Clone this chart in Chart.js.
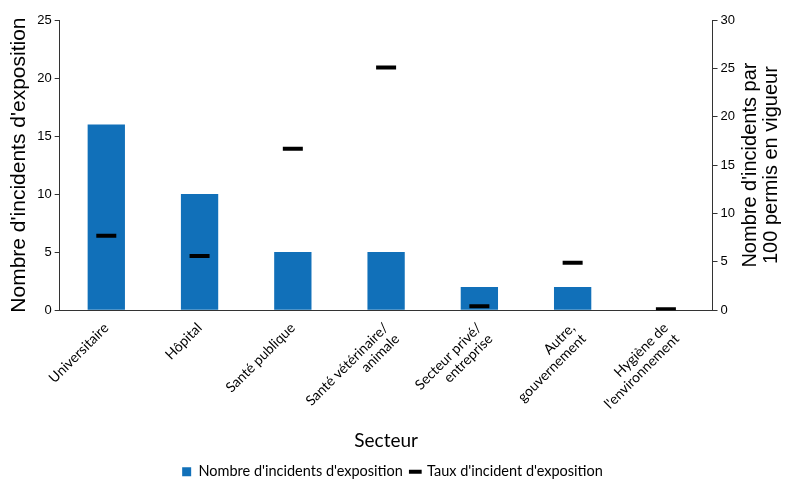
<!DOCTYPE html>
<html>
<head>
<meta charset="utf-8">
<script src="https://cdn.jsdelivr.net/npm/chart.js@4.4.0/dist/chart.umd.min.js"></script>
<style>
    html, body { margin: 0; padding: 0; background: #fff; }
    #wrap { width: 792px; height: 497px; }
</style>
</head>
<body>
<div id="wrap"><canvas id="chart"></canvas></div>
<script>
// Données du graphique
const secteurs = [
    'Universitaire',
    'Hôpital',
    'Santé publique',
    ['Santé vétérinaire/', 'animale'],
    ['Secteur privé/', 'entreprise'],
    ['Autre,', 'gouvernement'],
    ['Hygiène de', "l'environnement"]
];
const nombreIncidents = [16, 10, 5, 5, 2, 2, 0];
const tauxIncidents = [7.7, 5.6, 16.7, 25.1, 0.4, 4.9, 0.1];
const titreDroite = ["Nombre d'incidents par", '100 permis en vigueur'];

const bleu = '#1170b9';
const axe = '#333';

// Titre de l'axe de droite, tourné comme celui de gauche (de bas en haut)
const titreAxeDroite = {
    id: 'titreAxeDroite',
    afterDraw(chart) {
        const area = chart.chartArea;
        const c = chart.ctx;
        const milieu = (area.top + area.bottom) / 2;
        const x0 = area.right + 38;
        c.save();
        c.fillStyle = '#000';
        c.font = '20px "Liberation Sans"';
        c.textAlign = 'center';
        c.textBaseline = 'middle';
        titreDroite.forEach(function (ligne, i) {
            c.save();
            c.translate(x0 + i * 21, milieu);
            c.rotate(-Math.PI / 2);
            c.fillText(ligne, 0, 0);
            c.restore();
        });
        c.restore();
    }
};

const ctx = document.getElementById('chart');

new Chart(ctx, {
    data: {
        labels: secteurs,
        datasets: [{
            type: 'line',
            label: "Taux d'incident d'exposition",
            data: tauxIncidents,
            yAxisID: 'y2',
            showLine: false,
            pointStyle: 'line',
            pointRadius: 10,
            pointHoverRadius: 10,
            borderColor: '#000',
            backgroundColor: '#000',
            borderWidth: 4,
            order: 0
        }, {
            type: 'bar',
            label: "Nombre d'incidents d'exposition",
            data: nombreIncidents,
            yAxisID: 'y',
            backgroundColor: bleu,
            borderWidth: 0,
            barPercentage: 0.4,
            categoryPercentage: 1,
            pointStyle: 'rect',
            order: 1
        }]
    },
    options: {
        responsive: true,
        maintainAspectRatio: false,
        animation: false,
        layout: {
            padding: { top: 20, right: 10, left: 3, bottom: 8 }
        },
        plugins: {
            legend: {
                position: 'bottom',
                reverse: true,
                labels: {
                    usePointStyle: true,
                    boxWidth: 9,
                    boxHeight: 9,
                    padding: 8,
                    color: '#000',
                    font: { family: 'Lato', size: 14.5 }
                }
            },
            tooltip: { enabled: false }
        },
        scales: {
            x: {
                grid: { display: false },
                border: { display: true, color: axe, width: 1 },
                ticks: {
                    color: '#000',
                    minRotation: 45,
                    maxRotation: 45,
                    padding: 2,
                    font: { family: 'Lato', size: 14, lineHeight: 1.1 }
                },
                title: {
                    display: true,
                    text: 'Secteur',
                    color: '#000',
                    padding: { top: 8 },
                    font: { family: 'Lato', size: 19 }
                }
            },
            y: {
                position: 'left',
                min: 0,
                max: 25,
                grid: { display: true, drawOnChartArea: false, drawTicks: true, tickLength: 5, color: axe },
                border: { display: true, color: axe, width: 1 },
                ticks: {
                    stepSize: 5,
                    color: '#000',
                    padding: 3,
                    font: { family: 'Liberation Sans', size: 13 }
                },
                title: {
                    display: true,
                    text: "Nombre d'incidents d'exposition",
                    color: '#000',
                    padding: { bottom: 2 },
                    font: { family: 'Liberation Sans', size: 21 }
                }
            },
            y2: {
                position: 'right',
                min: 0,
                max: 30,
                grid: { display: true, drawOnChartArea: false, drawTicks: true, tickLength: 5, color: axe },
                border: { display: true, color: axe, width: 1 },
                ticks: {
                    stepSize: 5,
                    color: '#000',
                    padding: 3,
                    font: { family: 'Liberation Sans', size: 13 }
                },
                title: { display: false },
                afterFit(scale) {
                    // place pour le titre dessiné par le plugin
                    scale.width += 44;
                }
            }
        }
    },
    plugins: [titreAxeDroite]
});
</script>
</body>
</html>
